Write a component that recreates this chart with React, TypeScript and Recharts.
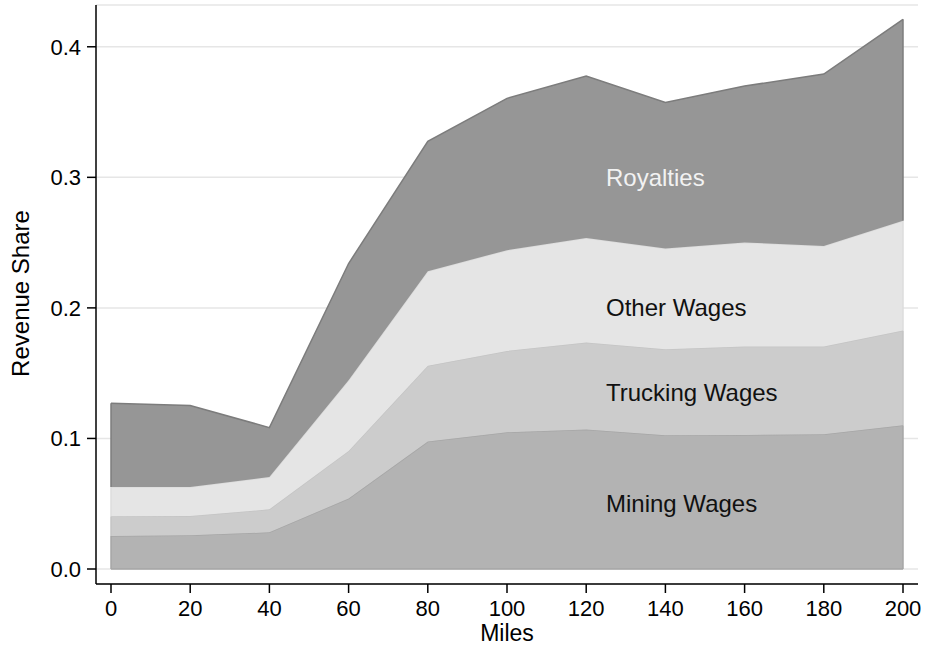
import React from 'react';
import {
  AreaChart,
  Area,
  XAxis,
  YAxis,
  CartesianGrid,
  ReferenceDot,
  ReferenceLine,
  Label,
} from 'recharts';

// Distance from the mine (miles)
const miles = [0, 20, 40, 60, 80, 100, 120, 140, 160, 180, 200];

// Revenue share of each cost component, stacked bottom to top
const miningWages = [0.0253, 0.0258, 0.0281, 0.054, 0.0976, 0.1048, 0.1068, 0.1025, 0.1027, 0.1032, 0.1101];
const truckingWages = [0.0151, 0.0148, 0.0176, 0.0364, 0.058, 0.0622, 0.0667, 0.0659, 0.0677, 0.0672, 0.0726];
const otherWages = [0.0224, 0.0222, 0.0248, 0.0542, 0.0725, 0.0772, 0.0801, 0.0771, 0.0797, 0.0771, 0.084];
const royalties = [0.0642, 0.0624, 0.0378, 0.0894, 0.0994, 0.1163, 0.124, 0.1119, 0.1198, 0.1316, 0.1543];

const xTicks = [0, 20, 40, 60, 80, 100, 120, 140, 160, 180, 200];
const yTicks = [0, 0.1, 0.2, 0.3, 0.4];

// In-plot series labels: [text, x, y, colour]
const seriesLabels: [string, number, number, string][] = [
  ['Royalties', 125, 0.3, '#f2f2f2'],
  ['Other Wages', 125, 0.2, '#111111'],
  ['Trucking Wages', 125, 0.135, '#111111'],
  ['Mining Wages', 125, 0.05, '#111111'],
];

const FONT = '"Liberation Sans", Arial, Helvetica, sans-serif';

const series = [
  { key: 'mining', values: miningWages, fill: '#b3b3b3', stroke: '#a6a6a6' },
  { key: 'trucking', values: truckingWages, fill: '#cccccc', stroke: '#c4c4c4' },
  { key: 'other', values: otherWages, fill: '#e5e5e5', stroke: '#dcdcdc' },
  { key: 'royalties', values: royalties, fill: '#969696', stroke: '#7c7c7c' },
];

const data = miles.map((m, i) => {
  const row: Record<string, number> = { miles: m };
  series.forEach((s) => {
    row[s.key] = s.values[i];
  });
  return row;
});

// Running totals at a given index, used for the closing edges of each band
const cumulativeAt = (i: number) => {
  const out: { lo: number; hi: number }[] = [];
  let acc = 0;
  series.forEach((s) => {
    const lo = acc;
    acc += s.values[i];
    out.push({ lo, hi: acc });
  });
  return out;
};

const firstIdx = 0;
const lastIdx = miles.length - 1;
const leftEdges = cumulativeAt(firstIdx);
const rightEdges = cumulativeAt(lastIdx);

const SeriesText = (text: string, color: string) => (props: any) => (
  <text
    x={props.cx}
    y={props.cy}
    fill={color}
    fontSize={24}
    fontFamily={FONT}
    textAnchor="start"
    dominantBaseline="central"
  >
    {text}
  </text>
);

export default function App() {
  return (
    <div style={{ position: 'absolute', left: 0, top: 0, width: 927, height: 649, background: '#fff' }}>
      <AreaChart
        width={927}
        height={649}
        data={data}
        margin={{ top: 5, right: 9, bottom: 0, left: 0 }}
      >
        <CartesianGrid horizontal vertical={false} stroke="#e6e6e6" strokeWidth={1.5} />
        <XAxis
          dataKey="miles"
          type="number"
          domain={[0, 200]}
          ticks={xTicks}
          padding={{ left: 15, right: 15 }}
          height={65}
          tickSize={9}
          tickMargin={7}
          tickLine={{ stroke: '#000', strokeWidth: 1.5 }}
          axisLine={{ stroke: '#000', strokeWidth: 1.5 }}
          tick={{ fontSize: 22, fill: '#000', fontFamily: FONT }}
          interval={0}
        >
          <Label
            content={(p: any) => {
              const vb = p.viewBox || { x: 96, y: 584, width: 822, height: 65 };
              return (
                <text
                  x={vb.x + vb.width / 2}
                  y={vb.y + 49}
                  textAnchor="middle"
                  dominantBaseline="central"
                  fontSize={23}
                  fontFamily={FONT}
                  fill="#000"
                >
                  Miles
                </text>
              );
            }}
          />
        </XAxis>
        <YAxis
          type="number"
          domain={[0, 0.432]}
          allowDataOverflow
          ticks={yTicks}
          padding={{ top: 0, bottom: 15 }}
          width={96}
          tickSize={9}
          tickMargin={6}
          tickFormatter={(v: number) => v.toFixed(1)}
          tickLine={{ stroke: '#000', strokeWidth: 1.5 }}
          axisLine={{ stroke: '#000', strokeWidth: 1.5 }}
          tick={{ fontSize: 22, fill: '#000', fontFamily: FONT }}
          interval={0}
        >
          <Label
            content={(p: any) => {
              const vb = p.viewBox || { x: 0, y: 5, width: 96, height: 579 };
              const cx = vb.x + 20;
              const cy = vb.y + vb.height / 2 - 1;
              return (
                <text
                  x={cx}
                  y={cy}
                  transform={`rotate(-90, ${cx}, ${cy})`}
                  textAnchor="middle"
                  dominantBaseline="central"
                  fontSize={24}
                  fontFamily={FONT}
                  fill="#000"
                >
                  Revenue Share
                </text>
              );
            }}
          />
        </YAxis>

        {series.map((s) => (
          <Area
            key={s.key}
            dataKey={s.key}
            stackId="share"
            type="linear"
            fill={s.fill}
            fillOpacity={1}
            stroke={s.stroke}
            strokeWidth={1.5}
            dot={false}
            activeDot={false}
            isAnimationActive={false}
          />
        ))}

        {/* closing outlines of each band at both ends and along the base */}
        <ReferenceLine
          segment={[
            { x: miles[firstIdx], y: 0 },
            { x: miles[lastIdx], y: 0 },
          ]}
          stroke={series[0].stroke}
          strokeWidth={1.5}
          ifOverflow="visible"
        />
        {series.map((s, k) => (
          <ReferenceLine
            key={`l-${s.key}`}
            segment={[
              { x: miles[firstIdx], y: leftEdges[k].lo },
              { x: miles[firstIdx], y: leftEdges[k].hi },
            ]}
            stroke={s.stroke}
            strokeWidth={1.5}
            ifOverflow="visible"
          />
        ))}
        {series.map((s, k) => (
          <ReferenceLine
            key={`r-${s.key}`}
            segment={[
              { x: miles[lastIdx], y: rightEdges[k].lo },
              { x: miles[lastIdx], y: rightEdges[k].hi },
            ]}
            stroke={s.stroke}
            strokeWidth={1.5}
            ifOverflow="visible"
          />
        ))}

        {seriesLabels.map(([text, x, y, color]) => (
          <ReferenceDot
            key={text}
            x={x}
            y={y}
            r={0}
            ifOverflow="visible"
            shape={SeriesText(text, color)}
          />
        ))}
      </AreaChart>
    </div>
  );
}
